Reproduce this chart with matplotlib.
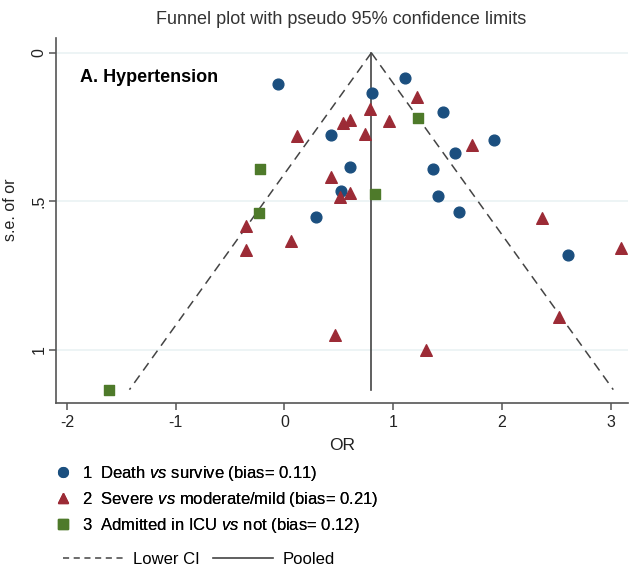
import numpy as np
import matplotlib
matplotlib.use("Agg")
import matplotlib.pyplot as plt
from matplotlib.lines import Line2D

# ------------------------------------------------------------------------------
# Data (OR on x, standard error on y)
# ------------------------------------------------------------------------------
death_or = [-0.06, 1.11, 0.81, 0.43, 1.46, 1.93, 1.57, 1.37, 1.41, 1.61, 0.60, 0.52, 0.29, 2.61]
death_se = [0.106, 0.086, 0.137, 0.277, 0.201, 0.294, 0.336, 0.392, 0.482, 0.537, 0.384, 0.465, 0.553, 0.682]

severe_or = [1.22, 0.79, 0.54, 0.60, 0.96, 0.74, 0.12, 1.73, 2.37, 0.43, 0.51, 0.60,
             -0.35, -0.35, 0.06, 3.10, 2.53, 0.47, 1.30]
severe_se = [0.148, 0.190, 0.236, 0.227, 0.230, 0.272, 0.281, 0.309, 0.556, 0.418, 0.486, 0.472,
             0.584, 0.663, 0.634, 0.657, 0.890, 0.952, 1.000]

icu_or = [1.23, -0.22, 0.83, -0.23, -1.61]
icu_se = [0.218, 0.393, 0.477, 0.541, 1.135]

pooled = 0.80
se_max = 1.135

labels = ["1  Death $\\it{vs}$ survive (bias= 0.11)",
          "2  Severe $\\it{vs}$ moderate/mild (bias= 0.21)",
          "3  Admitted in ICU $\\it{vs}$ not (bias= 0.12)"]

xticks = [-2, -1, 0, 1, 2, 3]
yticks = [0, 0.5, 1]
ytick_labels = ["0", ".5", "1"]

# ------------------------------------------------------------------------------
# Style
# ------------------------------------------------------------------------------
plt.rcParams['font.family'] = ['Liberation Sans', 'DejaVu Sans']
plt.rcParams['mathtext.fontset'] = 'custom'
plt.rcParams['mathtext.rm'] = 'Liberation Sans'
plt.rcParams['mathtext.it'] = 'Liberation Sans:italic'

blue = '#1b4f7f'
red = '#9c2b36'
green = '#4e7a2a'
axis_col = '#555555'

fig = plt.figure(figsize=(6.34, 5.68), dpi=100)
ax = fig.add_axes([56 / 634, 1 - 403 / 568, (628 - 56) / 634, (403 - 38) / 568])

# funnel limits and pooled line
se_line = np.array([0, se_max])
ax.plot(pooled - 1.96 * se_line, se_line, color='#444444', lw=1.1, ls=(0, (6, 4)), zorder=2)
ax.plot(pooled + 1.96 * se_line, se_line, color='#444444', lw=1.1, ls=(0, (6, 4)), zorder=2)
ax.plot([pooled, pooled], se_line, color='#444444', lw=1.2, zorder=2)

ax.scatter(death_or, death_se, s=60, marker='o', color=blue, zorder=3)
ax.scatter(severe_or, severe_se, s=70, marker='^', color=red, zorder=3)
ax.scatter(icu_or, icu_se, s=60, marker='s', color=green, zorder=3)

ax.set_xlim(-2.10, 3.16)
ax.set_ylim(1.18, -0.05)
ax.set_xticks(xticks)
ax.set_xticklabels([str(t) for t in xticks], fontsize=11.5)
ax.set_yticks(yticks)
ax.set_yticklabels(ytick_labels, fontsize=11.5, rotation=90, va='center')
for y in yticks:
    ax.axhline(y, color='#eaf2f4', lw=1.2, zorder=0)

for side in ['top', 'right']:
    ax.spines[side].set_visible(False)
for side in ['left', 'bottom']:
    ax.spines[side].set_color(axis_col)
    ax.spines[side].set_linewidth(1.2)
ax.tick_params(colors=axis_col, labelcolor='#222222', length=5, width=1.1)
ax.tick_params(axis='y', pad=2)

ax.set_xlabel("OR", fontsize=12.5, color='#222222', labelpad=6)
ax.set_ylabel("s.e. of or", fontsize=11.5, color='#222222')
ax.yaxis.set_label_coords(-(56 - 18) / 572, 0.53)
fig.text(0.538, 1 - 20 / 568, "Funnel plot with pseudo 95% confidence limits",
         ha='center', va='center', fontsize=13, color='#333333')
ax.text(80 / 634, 1 - 78 / 568, "A. Hypertension", transform=fig.transFigure,
        fontsize=13, fontweight='bold', ha='left', va='center', color='black')

# legends below the plot
marker_handles = [
    Line2D([], [], ls='none', marker='o', color=blue, markersize=7),
    Line2D([], [], ls='none', marker='^', color=red, markersize=7),
    Line2D([], [], ls='none', marker='s', color=green, markersize=7),
]
leg1 = fig.legend(marker_handles, labels, loc='upper left',
                  bbox_to_anchor=(49 / 634, 1 - 457 / 568), frameon=False,
                  fontsize=12, handlelength=0.9, handletextpad=0.65, labelspacing=0.42,
                  borderaxespad=0)
line_handles = [
    Line2D([], [], color='#444444', lw=1.1, ls=(0, (4, 3))),
    Line2D([], [], color='#444444', lw=1.2),
]
fig.legend(line_handles, ["Lower CI", "Pooled"], loc='upper left', ncol=2,
           bbox_to_anchor=(56 / 634, 1 - 545 / 568), frameon=False,
           fontsize=12, handlelength=3.6, handletextpad=0.6, columnspacing=0.8,
           borderaxespad=0)
fig.add_artist(leg1)

fig.savefig("out.png", dpi=100)
